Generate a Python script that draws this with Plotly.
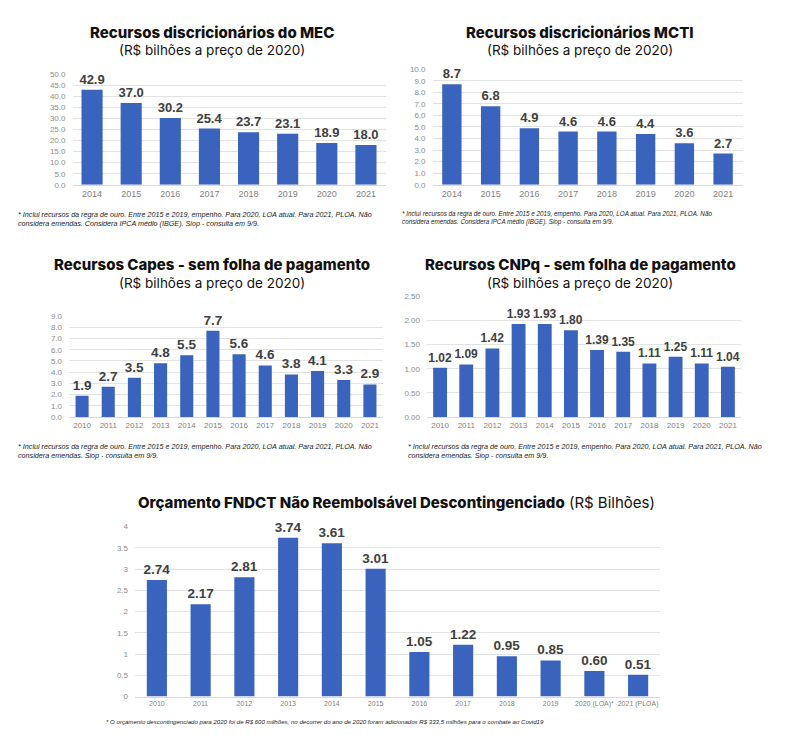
import plotly.graph_objects as go

W, H = 787, 744

# ---------------- data ----------------
mec_years = ["2014", "2015", "2016", "2017", "2018", "2019", "2020", "2021"]
mec_values = [42.9, 37.0, 30.2, 25.4, 23.7, 23.1, 18.9, 18.0]

mcti_years = ["2014", "2015", "2016", "2017", "2018", "2019", "2020", "2021"]
mcti_values = [8.7, 6.8, 4.9, 4.6, 4.6, 4.4, 3.6, 2.7]

capes_years = ["2010", "2011", "2012", "2013", "2014", "2015", "2016", "2017", "2018", "2019", "2020", "2021"]
capes_values = [1.9, 2.7, 3.5, 4.8, 5.5, 7.7, 5.6, 4.6, 3.8, 4.1, 3.3, 2.9]

cnpq_years = ["2010", "2011", "2012", "2013", "2014", "2015", "2016", "2017", "2018", "2019", "2020", "2021"]
cnpq_values = [1.02, 1.09, 1.42, 1.93, 1.93, 1.80, 1.39, 1.35, 1.11, 1.25, 1.11, 1.04]

fndct_years = ["2010", "2011", "2012", "2013", "2014", "2015", "2016", "2017", "2018", "2019", "2020 (LOA)*", "2021 (PLOA)"]
fndct_values = [2.74, 2.17, 2.81, 3.74, 3.61, 3.01, 1.05, 1.22, 0.95, 0.85, 0.60, 0.51]

BAR = "#3A63BE"
LABEL_FONT = "Liberation Sans Narrow, Arial Narrow, Liberation Sans, sans-serif"
TITLE_FONT = "Inter, Noto Sans, sans-serif"


def px(x):
    return x / W


def py(y):
    return 1 - y / H


fig = go.Figure()

# panel specs: (cats, vals, text fmt, x-domain px, y px bottom/top, range max, dtick, tickfmt, bar width, label size, xtick size)
panels = [
    (mec_years, mec_values, "{:.1f}", (72.5, 385.5), (183, 71), 50, 5, ".1f", 0.54, 13, 9),
    (mcti_years, mcti_values, "{:.1f}", (432.5, 742.5), (183, 66), 10, 1, ".1f", 0.5, 13, 9),
    (capes_years, capes_values, "{:.1f}", (69, 383), (418, 316), 9, 1, ".1f", 0.5, 13.5, 8),
    (cnpq_years, cnpq_values, "{:.2f}", (427, 741), (418, 296), 2.5, 0.5, ".2f", 0.53, 12, 8),
    (fndct_years, fndct_values, "{:.2f}", (135, 660), (701, 529), 4, 0.5, "", 0.46, 13.5, 7),
]

for i, (cats, vals, fmt, xd, yd, ymax, dt, tf, bw, ls, xs) in enumerate(panels):
    n = "" if i == 0 else str(i + 1)
    fig.add_trace(go.Bar(
        x=cats, y=vals,
        text=[fmt.format(v) for v in vals],
        textposition="outside",
        constraintext="none",
        cliponaxis=False,
        textfont=dict(family=LABEL_FONT, size=ls, color="#404040", weight="bold"),
        marker=dict(color=BAR, line=dict(width=0)),
        width=bw,
        xaxis="x" + n, yaxis="y" + n,
        showlegend=False,
        hoverinfo="skip",
    ))
    fig.update_layout(**{
        "xaxis" + n: dict(
            domain=[px(xd[0]), px(xd[1])], anchor="y" + n,
            type="category", showgrid=False, showline=True, linecolor="#d9d9d9",
            ticks="", tickangle=0,
            tickfont=dict(family=LABEL_FONT, size=xs, color="#7f7f7f"),
            fixedrange=True,
        ),
        "yaxis" + n: dict(
            domain=[py(yd[0]), py(yd[1])], anchor="x" + n,
            range=[0, ymax], dtick=dt, tickformat=tf,
            showgrid=True, gridcolor="#e3e3e3", gridwidth=1,
            zeroline=False, showline=False, ticks="",
            tickfont=dict(family=LABEL_FONT, size=8, color="#8c8c8c"),
            ticklabelstandoff=6,
            fixedrange=True,
        ),
    })

annotations = []


def title(x, y, text, size, bold=True):
    annotations.append(dict(
        x=px(x), y=py(y), xref="paper", yref="paper", text=text, showarrow=False,
        xanchor="center", yanchor="middle",
        font=dict(family=TITLE_FONT, size=size, color="#111111", weight=800 if bold else "normal"),
    ))


sub = "(R$ bilhões a preço de 2020)"
title(212, 29, "Recursos discricionários do MEC", 15)
title(212, 47, sub, 13.5, bold=False)
title(580, 29, "Recursos discricionários MCTI", 15)
title(580, 47, sub, 13.5, bold=False)
title(212, 264, "Recursos Capes - sem folha de pagamento", 15)
title(212, 282, sub, 13.5, bold=False)
title(580, 264, "Recursos CNPq - sem folha de pagamento", 15)
title(580, 282, sub, 13.5, bold=False)

annotations.append(dict(
    x=px(396), y=py(505), xref="paper", yref="paper", showarrow=False,
    xanchor="center", yanchor="middle",
    text="<span style='font-weight:800'>Orçamento FNDCT Não Reembolsável Descontingenciado</span> (R$ Bilhões)",
    font=dict(family=TITLE_FONT, size=15, color="#111111"),
))


def note(x, y, text, size):
    annotations.append(dict(
        x=px(x), y=py(y), xref="paper", yref="paper", showarrow=False,
        xanchor="left", yanchor="top", align="left",
        text="<i>" + text + "</i>",
        font=dict(family=LABEL_FONT, size=size, color="#1a1a1a"),
    ))


n1 = ("* Inclui recursos da regra de ouro. Entre 2015 e 2019, empenho. Para 2020, LOA atual. Para 2021, PLOA. Não<br>"
      "considera emendas. Considera IPCA médio (IBGE). Siop - consulta em 9/9.")
n3 = ("* Inclui recursos da regra de ouro. Entre 2015 e 2019, empenho. Para 2020, LOA atual. Para 2021, PLOA. Não<br>"
      "considera emendas. Siop - consulta em 9/9.")
n5 = ("* O orçamento descontingenciado para 2020 foi de R$ 600 milhões, no decorrer do ano de 2020 "
      "foram adicionados R$ 333,5 milhões para o combate ao Covid19")

note(16, 206, n1, 7.2)
note(400, 206, n1, 6.3)
note(16, 441, n3, 7.2)
note(406, 441, n3, 7.2)
note(104, 721, n5, 6.1)

fig.update_layout(
    width=W, height=H,
    margin=dict(l=0, r=0, t=0, b=0),
    paper_bgcolor="white", plot_bgcolor="white",
    annotations=annotations,
)

fig.write_html("out.html", config={"displayModeBar": False},
               post_script="document.body.style.margin='0';")
